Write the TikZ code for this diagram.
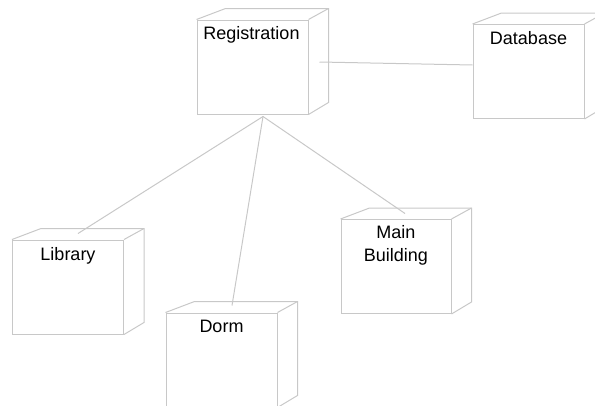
\documentclass[tikz,border=0pt]{standalone}
\usepackage{fontspec}
\setmainfont{Liberation Sans}
\usetikzlibrary{calc}
\definecolor{edgegray}{RGB}{200,200,200}
\begin{document}
\begin{tikzpicture}[x=1pt,y=-1pt,
  box/.style={draw=edgegray, line width=1pt, minimum width=111pt, minimum height=94pt, inner sep=0pt},
  edge/.style={draw=edgegray, line width=1pt, line join=miter},
  boxlabel/.style={anchor=north, inner sep=0pt, align=center,
    font=\fontsize{18}{23}\selectfont, text=black}]
  \useasboundingbox (0,0) rectangle (595,405);
  \clip (0,0) rectangle (595,405);

  % front faces of the deployment nodes
  \node[box] (reg)  at (252.5,67)  {};
  \node[box] (db)   at (528.5,71.5) {};
  \node[box] (lib)  at (68,287)    {};
  \node[box] (dorm) at (221.5,360) {};
  \node[box, minimum width=110pt] (main) at (396,266.5) {};

  % top and side faces
  \foreach \n in {reg,db,lib,dorm,main}{
    \draw[edge] (\n.north west) -- ++(29,-11) -- ($(\n.north east)+(20,-11)$)
                -- ($(\n.south east)+(20,-12)$) -- (\n.south east);
    \draw[edge] (\n.north east) -- ++(20,-11);
  }

  % labels
  \node[boxlabel] (reg-t)  at ($(reg.north)+(-1,7)$)  {Registration};
  \node[boxlabel] (db-t)   at ($(db.north)+(0,7)$)   {Database};
  \node[boxlabel] (lib-t)  at ($(lib.north)+(0,8)$)  {Library};
  \node[boxlabel] (dorm-t) at ($(dorm.north)+(0,7)$) {Dorm};
  \node[boxlabel] (main-t) at ($(main.north)+(0,6)$) {Main\\Building};

  % connector end points
  \coordinate (reg-side) at ($(reg.east)+(11,-5)$);
  \coordinate (db-side)  at ($(db.west)+(0,-6.5)$);
  \coordinate (hub)      at ($(reg.south)+(10.5,2)$);
  \coordinate (lib-top)  at ($(lib.north)+(10,-6)$);
  \coordinate (dorm-top) at ($(dorm.north)+(10.5,-7)$);
  \coordinate (main-top) at ($(main.north)+(9,-5.5)$);

  % connections
  \draw[edge] (reg-side) -- (db-side);
  \draw[edge] (hub) -- (lib-top);
  \draw[edge] (hub) -- (dorm-top);
  \draw[edge] (hub) -- (main-top);
\end{tikzpicture}
\end{document}
